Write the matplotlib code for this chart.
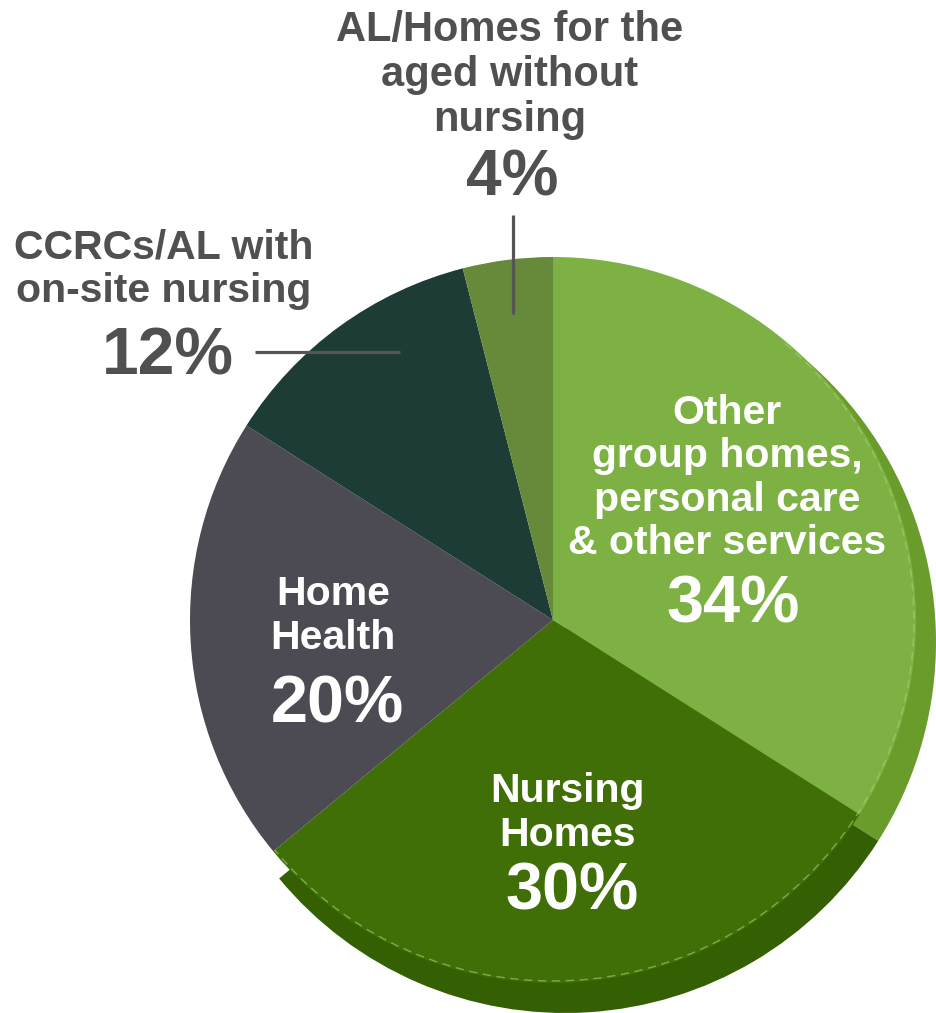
import matplotlib
matplotlib.use("Agg")
import numpy as np
import matplotlib.pyplot as plt
from matplotlib.patches import Arc, Polygon

plt.rcParams['font.family'] = ['Liberation Sans', 'DejaVu Sans']

# share of spending by setting, clockwise from 12 o'clock
segments = ["Other\ngroup homes,\npersonal care\n& other services",
            "Nursing\nHomes",
            "Home\nHealth",
            "CCRCs/AL with\non-site nursing",
            "AL/Homes for the\naged without\nnursing"]
shares = [34, 30, 20, 12, 4]
face_colors = ["#7db143", "#3f6f06", "#4c4a52", "#1d3c35", "#668a3a"]
rim_colors = ["#6a9c2c", "#345f03"]

W, H = 936, 1013
fig = plt.figure(figsize=(W / 100, H / 100), dpi=100)
ax = fig.add_axes([0, 0, 1, 1])

cx, cy, r = 553, 620, 363

# darker rim under the two green slices gives the tilted-disc look
green = shares[:2]
rest = 100 - sum(green)
rim, _ = ax.pie(green + [rest], colors=rim_colors + ["none"],
                center=(cx + 12, cy + 22), radius=r + 8,
                startangle=-90, counterclock=True,
                wedgeprops=dict(linewidth=0))

# keep the rim on the green side of the nursing / home health boundary
end = -90 + 360 * sum(green) / 100
far = 2000
bx, by = np.cos(np.radians(end)), np.sin(np.radians(end))
clip = Polygon([(cx, cy), (cx + far * bx, cy + far * by), (cx + far, cy + far),
                (cx + far, cy - far), (cx, cy - far)], closed=True,
               transform=ax.transData, facecolor="none", edgecolor="none")
ax.add_patch(clip)
for w in rim:
    w.set_zorder(1)
    w.set_clip_path(clip)

wedges, _ = ax.pie(shares, colors=face_colors, center=(cx, cy), radius=r,
                   startangle=-90, counterclock=True,
                   wedgeprops=dict(linewidth=0))
for w in wedges:
    w.set_zorder(2)

# faint dashed highlight along the edge of the green slices
ax.add_patch(Arc((cx, cy), 2 * r - 4, 2 * r - 4, theta1=-90 + 40, theta2=end,
                 color="#a9d27a", lw=1, ls=(0, (6, 4)), alpha=0.6, zorder=3))

ax.set_xlim(0, W)
ax.set_ylim(H, 0)
ax.set_aspect('equal')
ax.axis('off')

white = dict(color="white", fontweight="bold", ha="center", va="center", zorder=5)
grey = dict(color="#505050", fontweight="bold", ha="center", va="center", zorder=5)

# labels inside the slices
ax.text(727, 478, segments[0], fontsize=29.5, linespacing=1.17, **white)
ax.text(733, 605, f"{shares[0]}%", fontsize=48, **white)
ax.text(567, 813, segments[1], fontsize=29.5, linespacing=1.17, **white)
ax.text(572, 893, f"{shares[1]}%", fontsize=48, **white)
ax.text(333, 616, segments[2], fontsize=29.5, linespacing=1.17, **white)
ax.text(337, 705, f"{shares[2]}%", fontsize=48, **white)

# labels outside with leader lines
ax.text(164, 269, segments[3], fontsize=29.5, linespacing=1.17, **grey)
ax.text(168, 357, f"{shares[3]}%", fontsize=47.5, **grey)
ax.plot([255, 400], [352, 352], color="#555555", lw=2.3, zorder=6,
        solid_capstyle='butt')

ax.text(510, 75, segments[4], fontsize=30, linespacing=1.17, **grey)
ax.text(512, 178, f"{shares[4]}%", fontsize=46, **grey)
ax.plot([513, 513], [215, 314], color="#555555", lw=2.3, zorder=6,
        solid_capstyle='butt')

fig.savefig("out.png", dpi=100, facecolor="white")
